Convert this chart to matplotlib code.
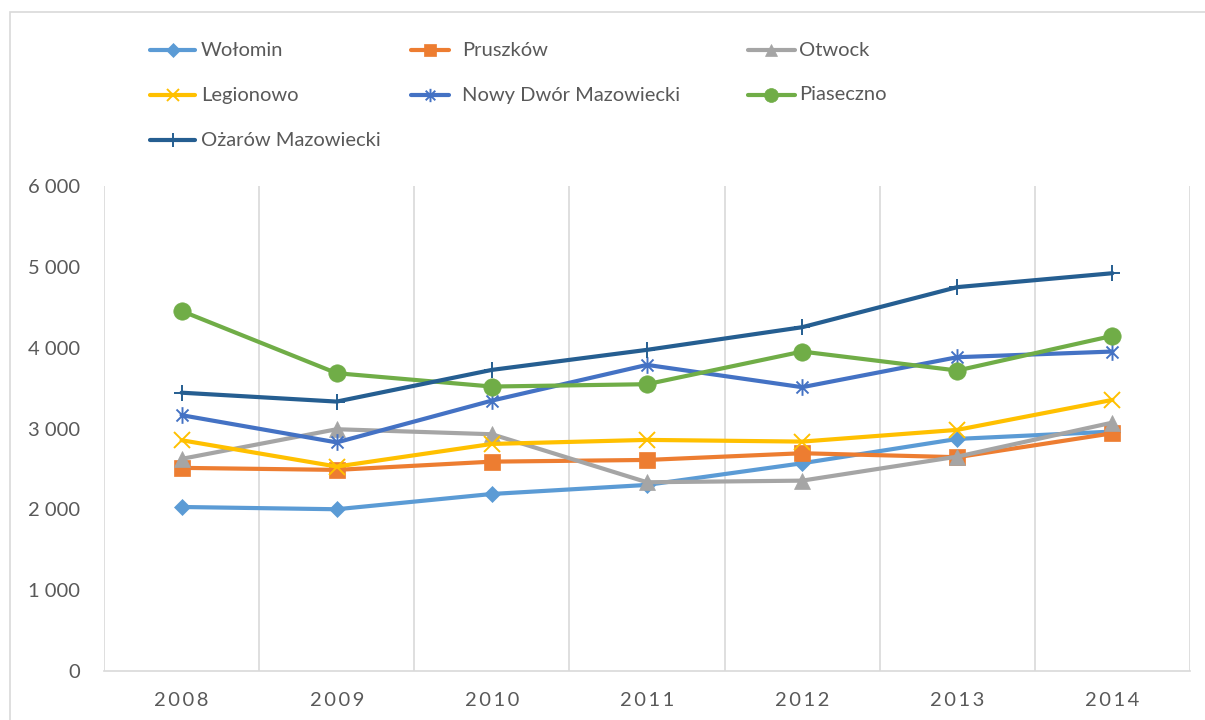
import matplotlib.pyplot as plt
from matplotlib.lines import Line2D
from matplotlib.path import Path
from matplotlib.patches import Rectangle
from matplotlib.ticker import FuncFormatter

plt.rcParams['font.family'] = ['Lato', 'DejaVu Sans']

years = ['2008', '2009', '2010', '2011', '2012', '2013', '2014']
wolomin = [2029, 2001, 2190, 2302, 2570, 2871, 2962]
pruszkow = [2513, 2488, 2590, 2611, 2694, 2645, 2941]
otwock = [2624, 2991, 2929, 2335, 2355, 2652, 3073]
legionowo = [2855, 2529, 2809, 2859, 2838, 2983, 3354]
nowy_dwor = [3165, 2828, 3345, 3787, 3511, 3882, 3952]
piaseczno = [4454, 3684, 3519, 3548, 3952, 3717, 4146]
ozarow = [3443, 3333, 3725, 3973, 4253, 4749, 4921]

# asterisk marker: x plus a vertical bar
asterisk = Path([(0, -1), (0, 1), (-0.72, -0.72), (0.72, 0.72), (-0.72, 0.72), (0.72, -0.72)],
                [Path.MOVETO, Path.LINETO, Path.MOVETO, Path.LINETO, Path.MOVETO, Path.LINETO])

# name, values, colour, marker, marker size, filled marker
series = [
    ('Wołomin', wolomin, '#5B9BD5', 'D', 8.5, True),
    ('Pruszków', pruszkow, '#ED7D31', 's', 11.5, True),
    ('Otwock', otwock, '#A5A5A5', '^', 11, True),
    ('Legionowo', legionowo, '#FFC000', 'x', 11, False),
    ('Nowy Dwór Mazowiecki', nowy_dwor, '#4472C4', asterisk, 12, False),
    ('Piaseczno', piaseczno, '#70AD47', 'o', 12.5, True),
    ('Ożarów Mazowiecki', ozarow, '#255E91', '+', 12, False),
]

TXT = '#595959'
GRID = '#D9D9D9'
W, H = 1205, 720
LW = 3.0

fig = plt.figure(figsize=(W / 100, H / 100), dpi=100)
ax = fig.add_axes([104 / W, (H - 671) / H, (1190 - 104) / W, (671 - 186) / H])

x = list(range(len(years)))
for name, vals, col, mk, ms, filled in series:
    ax.plot(x, vals, color=col, lw=LW, marker=mk, markersize=ms,
            markerfacecolor=col, markeredgecolor=col,
            markeredgewidth=1.4 if not filled else 0.5, solid_capstyle='round',
            solid_joinstyle='round', clip_on=False)

ax.set_xlim(-0.5, len(years) - 0.5)
ax.set_ylim(0, 6000)
ax.set_yticks(range(0, 6001, 1000))
ax.yaxis.set_major_formatter(FuncFormatter(lambda v, p: f'{v:,.0f}'.replace(',', ' ')))
ax.set_xticks(x)
ax.set_xticklabels(['\u2009'.join(y) for y in years])
ax.tick_params(axis='both', length=0, labelsize=14.5, labelcolor=TXT)
ax.tick_params(axis='y', pad=17)
ax.tick_params(axis='x', pad=15)

# vertical lines between categories, no horizontal grid
for b in [i - 0.5 for i in range(len(years) + 1)]:
    ax.axvline(b, color=GRID, lw=1.2, zorder=0)
for s in ['top', 'right', 'left']:
    ax.spines[s].set_visible(False)
ax.spines['bottom'].set_color(GRID)
ax.spines['bottom'].set_linewidth(1.2)

# legend drawn by hand in pixel positions
cols = [(150, 195, 201), (411, 449, 462), (748, 795, 799)]
rows = [50, 95, 140]
for i, (name, vals, col, mk, ms, filled) in enumerate(series):
    x0, x1, tx = cols[i % 3]
    yy = 1 - rows[i // 3] / H
    fig.add_artist(Line2D([x0 / W, x1 / W], [yy, yy], color=col, lw=LW,
                          solid_capstyle='round', transform=fig.transFigure))
    fig.add_artist(Line2D([(x0 + x1) / 2 / W], [yy], marker=mk, markersize=ms * 0.8,
                          color=col, markeredgewidth=1.4 if not filled else 0.5,
                          transform=fig.transFigure))
    fig.text(tx / W, yy, name, fontsize=14.5, color=TXT, ha='left', va='center')

# outer chart border
fig.add_artist(Rectangle((10 / W, -0.02), 1.05, 1 - 12 / H + 0.02, fill=False,
                         edgecolor=GRID, lw=1.2, transform=fig.transFigure))

fig.savefig('out.png', dpi=100, facecolor='white')
